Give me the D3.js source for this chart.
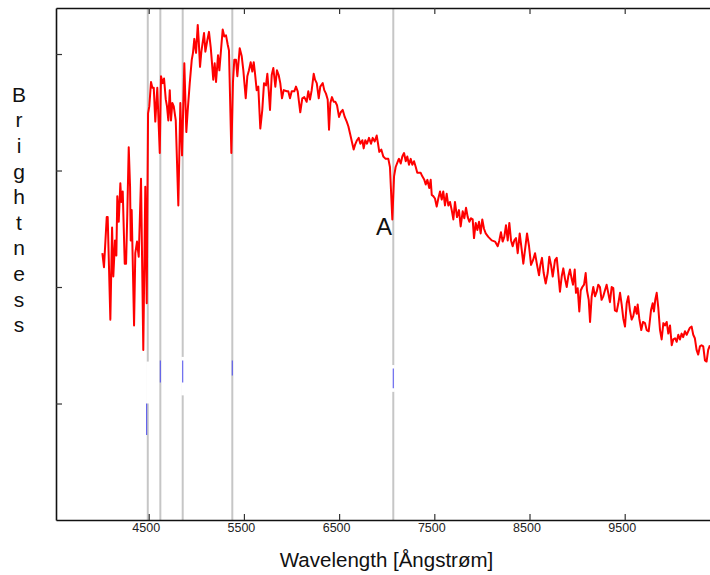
<!DOCTYPE html>
<html>
<head>
<meta charset="utf-8">
<script src="https://cdn.jsdelivr.net/npm/d3@7/dist/d3.min.js"></script>
<style>
  body { margin: 0; background: #fff; }
  svg { display: block; font-family: 'Liberation Sans', Arial, sans-serif; }
</style>
</head>
<body>
<div id="chart"></div>
<script>
// Spectrum: wavelength in Ångstrøm, brightness in tick units
let wavelength = [
  4013,4030,4059,4069,4097,4115,4128,4146,4160,4170,
  4185,4202,4212,4227,4248,4262,4275,4290,4304,4311,
  4321,4346,4359,4377,4395,4419,4443,4464,4479,4493,
  4506,4524,4538,4553,4569,4590,4616,4629,4647,4661,
  4679,4692,4706,4721,4734,4748,4763,4784,4811,4832,
  4850,4874,4895,4910,4931,4952,4965,4979,4997,5015,
  5025,5039,5053,5081,5095,5116,5133,5151,5162,5178,
  5193,5207,5228,5242,5259,5277,5294,5312,5330,5343,
  5368,5385,5399,5417,5431,5456,5477,5494,5519,5536,
  5553,5571,5588,5603,5617,5634,5651,5672,5693,5711,
  5732,5746,5760,5774,5792,5809,5830,5847,5865,5882,
  5900,5918,5950,5966,5984,6002,6029,6047,6065,6092,
  6113,6134,6159,6176,6194,6212,6233,6247,6265,6286,
  6302,6328,6344,6362,6380,6394,6408,6425,6443,6460,
  6478,6499,6517,6538,6559,6580,6597,6614,6639,6653,
  6667,6688,6706,6723,6744,6758,6775,6793,6814,6835,
  6853,6874,6895,6909,6922,6943,6964,6989,7017,7034,
  7059,7077,7094,7122,7129,7147,7164,7182,7200,7216,
  7234,7252,7269,7287,7305,7321,7357,7374,7395,7410,
  7427,7447,7462,7473,7489,7507,7525,7542,7560,7578,
  7594,7612,7630,7647,7665,7683,7700,7717,7738,7759,
  7777,7798,7815,7833,7851,7868,7885,7903,7917,7935,
  7952,7970,7987,8004,8022,8040,8067,8103,8138,8166,
  8183,8200,8218,8235,8253,8271,8288,8306,8323,8340,
  8358,8376,8397,8418,8435,8453,8474,8495,8516,8537,
  8558,8579,8600,8614,8631,8649,8670,8691,8708,8726,
  8744,8768,8786,8802,8820,8838,8855,8873,8891,8907,
  8925,8943,8957,8975,8988,9006,9023,9038,9055,9073,
  9090,9104,9122,9136,9153,9170,9188,9206,9222,9240,
  9257,9275,9292,9310,9327,9345,9363,9380,9397,9416,
  9433,9451,9468,9485,9503,9521,9538,9555,9573,9590,
  9608,9626,9636,9653,9674,9692,9713,9731,9752,9776,
  9794,9807,9821,9836,9853,9871,9888,9906,9923,9941,
  9958,9976,9994,10010,10029,10046,10063,10080,10098,10114,
  10133,10151,10167,10185,10203,10220,10237,10255,10272,10290,
  10307,10325,10343,10360,10377,10395
];
let brightness = [
  2.29,2.17,2.60,2.60,1.72,2.51,2.09,2.40,2.27,2.78,
  2.56,2.89,2.73,2.82,2.20,2.20,2.63,3.20,2.86,2.40,
  2.66,1.67,2.29,2.39,2.26,2.93,1.46,2.86,1.86,3.49,
  3.55,3.76,3.71,3.71,3.42,3.71,3.15,3.81,3.75,3.79,
  3.61,3.55,3.43,3.69,3.43,3.58,3.55,3.43,2.70,3.58,
  3.13,3.92,3.33,3.52,3.75,3.95,4.01,4.13,4.01,4.25,
  4.12,3.89,4.02,4.18,4.02,4.12,4.19,4.06,3.95,3.78,
  3.92,3.76,3.99,3.86,4.03,4.21,4.15,4.16,4.08,4.03,
  3.15,3.76,3.95,3.95,3.81,4.05,3.98,3.86,3.62,3.81,
  3.86,3.93,3.85,3.93,3.83,3.69,3.72,3.36,3.52,3.75,
  3.73,3.83,3.69,3.52,3.82,3.88,3.72,3.86,3.82,3.75,
  3.62,3.69,3.68,3.68,3.62,3.68,3.68,3.72,3.68,3.50,
  3.62,3.63,3.59,3.68,3.61,3.69,3.83,3.78,3.75,3.62,
  3.72,3.75,3.69,3.66,3.61,3.35,3.58,3.63,3.59,3.59,
  3.56,3.46,3.50,3.52,3.46,3.42,3.38,3.32,3.23,3.18,
  3.22,3.26,3.28,3.23,3.26,3.19,3.26,3.23,3.28,3.23,
  3.28,3.25,3.30,3.23,3.16,3.18,3.12,3.10,3.10,3.03,
  2.58,2.95,3.03,3.09,3.10,3.06,3.12,3.15,3.08,3.12,
  3.05,3.10,3.05,3.08,3.03,2.98,2.98,2.95,2.92,2.88,
  2.92,2.85,2.92,2.79,2.78,2.76,2.69,2.76,2.82,2.75,
  2.82,2.70,2.80,2.70,2.73,2.66,2.58,2.73,2.60,2.66,
  2.52,2.65,2.59,2.68,2.60,2.56,2.59,2.58,2.42,2.55,
  2.49,2.56,2.46,2.58,2.50,2.46,2.43,2.40,2.39,2.35,
  2.40,2.47,2.39,2.43,2.53,2.40,2.55,2.40,2.35,2.40,
  2.42,2.29,2.46,2.32,2.20,2.32,2.46,2.35,2.19,2.23,
  2.29,2.19,2.10,2.19,2.25,2.12,2.03,2.12,2.26,2.19,
  2.09,2.23,2.25,2.12,1.96,2.09,2.16,2.07,2.00,2.09,
  2.15,2.07,2.02,2.15,1.95,1.99,1.79,1.97,2.00,2.02,
  2.12,1.97,1.89,1.70,1.92,2.00,1.92,1.96,2.02,2.00,
  1.89,1.92,1.97,2.02,1.95,1.87,2.00,1.99,1.80,1.79,
  1.86,1.95,1.85,1.73,1.66,1.86,1.92,1.80,1.72,1.75,
  1.83,1.77,1.85,1.73,1.63,1.70,1.69,1.63,1.62,1.80,
  1.86,1.79,1.89,1.95,1.82,1.63,1.55,1.69,1.67,1.70,
  1.60,1.67,1.50,1.55,1.56,1.53,1.59,1.55,1.60,1.57,
  1.62,1.59,1.62,1.65,1.66,1.59,1.56,1.46,1.42,1.49,
  1.50,1.49,1.37,1.36,1.46,1.50
];
// Marked absorption lines (grey verticals)
let markerLines = [4490, 4622, 4857, 5378, 7069];
// Gaps in the grey lines and the little blue pieces on them: [wavelength, from, to]
let lineGaps = [[4490, 1.36, 1.00], [4857, 1.40, 1.07], [7069, 1.33, 1.10]];
let blueBits = [[4478, 1.00, 0.73], [4622, 1.37, 1.18], [4857, 1.37, 1.18], [5378, 1.37, 1.24], [7069, 1.30, 1.13]];
let xTicks = [4500, 5500, 6500, 7500, 8500, 9500];
let yTicks = [1, 2, 3, 4];
let xTitle = 'Wavelength [Ångstrøm]';
let yTitle = 'Brightness';
let lineName = 'A';

if (wavelength.length !== brightness.length) throw new Error('length mismatch ' + wavelength.length + ' ' + brightness.length);

let width = 710;
let height = 575;
let plot = { left: 56, top: 8, right: 712, bottom: 520 };

let xScale = d3.scaleLinear()
               .domain([3526, 10417])
               .range([plot.left, plot.right]);
let yScale = d3.scaleLinear()
               .domain([0, 4.395])
               .range([plot.bottom, plot.top]);

let svg = d3.select('#chart').append('svg')
            .attr('width', width)
            .attr('height', height);

// Grey marker lines
svg.selectAll('.marker')
   .data(markerLines)
   .enter()
   .append('line')
   .attr('class', 'marker')
   .attr('x1', v => xScale(v))
   .attr('x2', v => xScale(v))
   .attr('y1', yScale.range()[1])
   .attr('y2', yScale.range()[0])
   .style('stroke', '#c6c6c6')
   .style('stroke-width', 2);

svg.selectAll('.gap')
   .data(lineGaps)
   .enter()
   .append('line')
   .attr('class', 'gap')
   .attr('x1', v => xScale(v[0]))
   .attr('x2', v => xScale(v[0]))
   .attr('y1', v => yScale(v[1]))
   .attr('y2', v => yScale(v[2]))
   .style('stroke', '#fff')
   .style('stroke-width', 3);

svg.selectAll('.blue')
   .data(blueBits)
   .enter()
   .append('line')
   .attr('class', 'blue')
   .attr('x1', v => xScale(v[0]))
   .attr('x2', v => xScale(v[0]))
   .attr('y1', v => yScale(v[1]))
   .attr('y2', v => yScale(v[2]))
   .style('stroke', '#5a5aec')
   .style('stroke-width', 1.1);

// The spectrum
let line = d3.line()
             .x(d => xScale(d[0]))
             .y(d => yScale(d[1]));

svg.append('path')
   .datum(wavelength.map((v, i) => [v, brightness[i]]))
   .attr('d', line)
   .style('fill', 'none')
   .style('stroke', '#ff0000')
   .style('stroke-width', 2)
   .style('stroke-linejoin', 'round');

// Axes: bottom with labels, top and left only ticks
svg.append('g')
   .attr('class', 'xaxis')
   .attr('transform', `translate(0, ${plot.bottom})`)
   .call(d3.axisBottom(xScale).tickValues(xTicks).tickFormat(d3.format('d'))
           .tickSizeInner(-6).tickSizeOuter(0).tickPadding(3.5))
   .selectAll('text')
   .attr('dx', -3)
   .style('font-size', '12.5px')
   .style('fill', '#222');

svg.append('g')
   .attr('transform', `translate(0, ${plot.top})`)
   .call(d3.axisTop(xScale).tickValues(xTicks).tickSizeInner(-6).tickSizeOuter(0).tickFormat(''));

svg.append('g')
   .attr('transform', `translate(${plot.left}, 0)`)
   .call(d3.axisLeft(yScale).tickValues(yTicks).tickSizeInner(-6).tickSizeOuter(0).tickFormat(''));

svg.selectAll('.domain')
   .style('stroke', '#111')
   .style('stroke-width', 1.6);
svg.selectAll('.tick line')
   .style('stroke', '#333')
   .style('stroke-width', 1.2);

// Label on the deep line
svg.append('text')
   .attr('x', xScale(6972))
   .attr('y', yScale(2.45))
   .attr('text-anchor', 'middle')
   .style('font-size', '24px')
   .style('fill', '#111')
   .text(lineName);

// Axis titles
svg.append('text')
   .attr('x', 386.5)
   .attr('y', 567)
   .attr('text-anchor', 'middle')
   .style('font-size', '20.5px')
   .style('fill', '#111')
   .text(xTitle);

svg.append('text')
   .attr('text-anchor', 'middle')
   .style('font-size', '21px')
   .style('fill', '#111')
   .selectAll('tspan')
   .data(yTitle.split(''))
   .enter()
   .append('tspan')
   .attr('x', 19)
   .attr('y', (v, i) => 101.7 + i * 25.6)
   .text(v => v);
</script>
</body>
</html>
